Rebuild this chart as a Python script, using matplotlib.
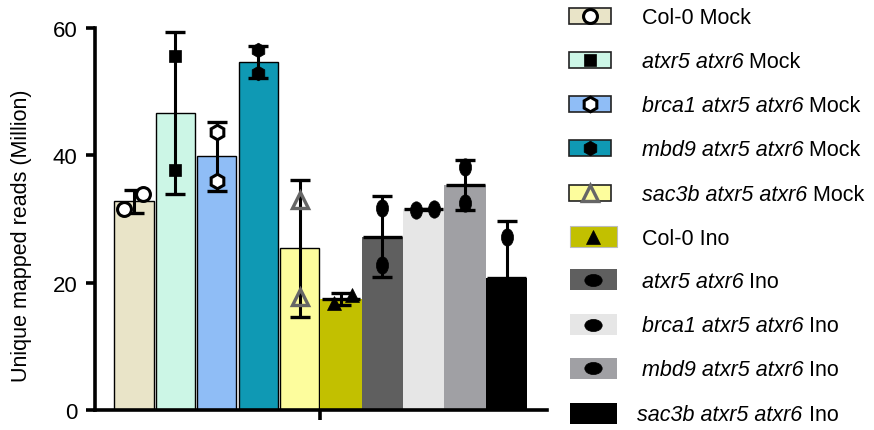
import numpy as np
import matplotlib
matplotlib.use("Agg")
import matplotlib.pyplot as plt
from matplotlib.patches import Rectangle
from matplotlib.lines import Line2D
from matplotlib.path import Path
from matplotlib.transforms import Affine2D, offset_copy

plt.rcParams["font.family"] = ["Liberation Sans", "DejaVu Sans"]

# two replicates per sample (million unique mapped reads)
genotypes = ["Col-0", "atxr5 atxr6", "brca1 atxr5 atxr6", "mbd9 atxr5 atxr6", "sac3b atxr5 atxr6"] * 2
treatments = ["Mock"] * 5 + ["Ino"] * 5
rep1 = [34.0, 55.6, 43.7, 56.5, 33.0, 18.1, 31.8, 31.6, 38.1, 27.1]
rep2 = [31.5, 37.7, 36.0, 52.9, 17.8, 16.8, 22.7, 31.4, 32.5, 14.3]
bar_colors = ["#e9e4c8", "#ccf6e6", "#8fbdf6", "#0f99b4", "#fdfd9d",
              "#c2c000", "#5f5f5f", "#e6e6e6", "#a0a0a4", "#000000"]

reps = np.array([rep1, rep2])
means = reps.mean(axis=0)
sds = reps.std(axis=0, ddof=1)

# vertical ellipse used for the Ino replicate dots
ellipse = Path.unit_circle().transformed(Affine2D().scale(0.7, 1.0))
ellipse_wide = Path.unit_circle().transformed(Affine2D().scale(1.0, 0.7))

mk_style = [
    dict(marker="o", mfc="white", mec="black", mew=2.2, ms=10),
    dict(marker="s", mfc="black", mec="black", mew=0.5, ms=8.5),
    dict(marker="h", mfc="white", mec="black", mew=2.2, ms=10.5),
    dict(marker="h", mfc="black", mec="black", mew=0.5, ms=10.5),
    dict(marker="^", mfc="none", mec="#666666", mew=2.4, ms=11),
    dict(marker="^", mfc="black", mec="black", mew=0.5, ms=10),
] + [dict(marker=ellipse, mfc="black", mec="black", mew=0.5, ms=12.5)] * 4
# horizontal jitter of the two replicate dots
jitter = [(0.22, -0.24), (0, 0), (0, 0), (0, 0), (0, 0),
          (0.26, -0.18), (0, 0), (0.25, -0.2), (0, 0), (0, 0)]

fig = plt.figure(figsize=(8.74, 4.31), dpi=100)
ax = fig.add_axes([95 / 874, 1 - 411 / 431, 452 / 874, 382 / 431])

x = np.arange(len(means))
for i in range(len(means)):
    if i < 5:
        ax.bar(x[i], means[i], width=0.95, color=bar_colors[i],
               edgecolor="black", linewidth=1.0, zorder=1)
    else:
        ax.bar(x[i], means[i], width=1.0, color=bar_colors[i],
               edgecolor="none", zorder=1)
        ax.hlines(means[i], x[i] - 0.47, x[i] + 0.47, color="black", lw=2.4, zorder=2)
    ax.errorbar(x[i], means[i], yerr=sds[i], fmt="none", ecolor="black",
                elinewidth=2.2, capsize=7, capthick=2.4, zorder=3)
    for r in range(2):
        ax.plot(x[i] + jitter[i][r], reps[r, i], ls="none", zorder=4, **mk_style[i])

ax.set_xlim(-0.942, 9.976)
ax.set_ylim(0, 60)
ax.set_yticks([0, 20, 40, 60])
ax.set_xticks([4.5])
ax.set_xticklabels([""])
for s in ["top", "right"]:
    ax.spines[s].set_visible(False)
for s in ["left", "bottom"]:
    ax.spines[s].set_linewidth(2.6)
ax.tick_params(axis="y", length=6.5, width=2.6, pad=6, labelsize=16)
ax.tick_params(axis="x", length=7.5, width=2.6)

fig.text(21.7 / 874, 1 - 236 / 431, "Unique mapped reads (Million)", rotation=90,
         ha="center", va="center", fontsize=15.5)

# legend drawn by hand on the right
def fx(px):
    return px / 874

def fy(py):
    return 1 - py / 431

renderer = fig.canvas.get_renderer()
leg_y = [17, 60.5, 105, 149, 194.3, 237.7, 280.8, 325.5, 369, 414]
for i in range(10):
    g = genotypes[i]
    if i < 5:
        w, h, x0 = 42, 16, 568.5
        fig.add_artist(Rectangle((fx(x0), fy(leg_y[i] + h / 2)), w / 874, h / 431,
                                 transform=fig.transFigure, facecolor=bar_colors[i],
                                 edgecolor="#222222", linewidth=1.2))
    else:
        w, h, x0 = 47, 21, 569.5
        fig.add_artist(Rectangle((fx(x0), fy(leg_y[i] + h / 2)), w / 874, h / 431,
                                 transform=fig.transFigure, facecolor=bar_colors[i],
                                 edgecolor="#bbbbbb" if i == 5 else "none", linewidth=0.8))
    st = dict(mk_style[i])
    if i >= 6:
        st["marker"] = ellipse_wide
    fig.add_artist(Line2D([fx(x0 + w / 2)], [fy(leg_y[i])], transform=fig.transFigure, **st))

    tx = 641.7 if i < 9 else 637.3
    ty = fy(leg_y[i] + 1.5)
    if g == "Col-0":
        fig.text(fx(tx), ty, f"{g} {treatments[i]}", ha="left", va="center", fontsize=15.5)
    else:
        t_it = fig.text(fx(tx), ty, g, ha="left", va="center", fontsize=15.5, style="italic")
        width_px = t_it.get_window_extent(renderer).width
        tr = offset_copy(fig.transFigure, fig=fig, x=width_px, y=0, units="dots")
        fig.text(fx(tx), ty, " " + treatments[i], ha="left", va="center",
                 fontsize=15.5, transform=tr)

fig.savefig("out.png", dpi=100)
